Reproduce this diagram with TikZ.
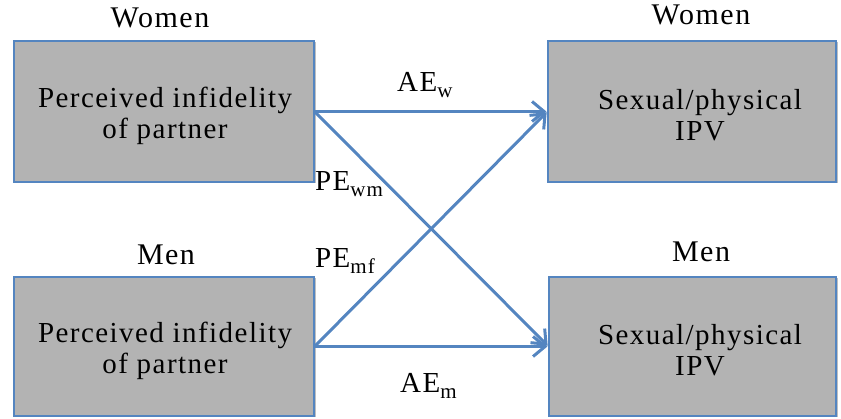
\documentclass[tikz,border=0pt]{standalone}
\usepackage{fontspec}
\setmainfont{Liberation Serif}[LetterSpace=5]
\usetikzlibrary{arrows.meta,shadows}
\definecolor{boxgray}{RGB}{179,179,179}
\definecolor{pathblue}{RGB}{84,133,192}
\newcommand{\lbl}[2]{#1\raisebox{-0.2em}{\fontsize{21}{21}\selectfont #2}}
\tikzset{
  varbox/.style={draw=pathblue, line width=1.2pt, fill=boxgray, inner sep=0pt,
    drop shadow={shadow xshift=1.5pt, shadow yshift=-1.5pt, opacity=0.25, fill=black}},
  boxtext/.style={align=center, inner sep=0pt, font=\fontsize{29}{31}\selectfont},
  grouplbl/.style={anchor=base, font=\fontsize{30}{31}\selectfont, inner sep=0pt},
  pathlbl/.style={anchor=base west, font=\fontsize{29}{31}\selectfont, inner sep=0pt},
  effect/.style={draw=pathblue, line width=3pt,
    -{Straight Barb[length=12pt, width=20pt, line width=3pt]}, shorten >=1pt}
}
\begin{document}
\begin{tikzpicture}[x=1pt, y=-1pt]
  \useasboundingbox (0,0) rectangle (841,419);

  % exposure and outcome boxes
  \node[varbox, minimum width=300pt, minimum height=141pt] (lw) at (164,111.5) {};
  \node[varbox, minimum width=288pt, minimum height=141pt] (rw) at (692,111.5) {};
  \node[varbox, minimum width=300pt, minimum height=139pt] (lm) at (164,346.5) {};
  \node[varbox, minimum width=287pt, minimum height=139pt] (rm) at (692.5,346.5) {};

  \node[boxtext] (tlw) at (165,115.5) {Perceived infidelity\\of partner};
  \node[boxtext] (trw) at (700,115.5) {Sexual/physical\\IPV};
  \node[boxtext] (tlm) at (165,350.5) {Perceived infidelity\\of partner};
  \node[boxtext] (trm) at (700,350.5) {Sexual/physical\\IPV};

  % group headings
  \node[grouplbl] (hlw) at (160,28) {Women};
  \node[grouplbl] (hrw) at (701,25) {Women};
  \node[grouplbl] (hlm) at (166,265) {Men};
  \node[grouplbl] (hrm) at (701,262) {Men};

  % actor and partner effects
  \draw[effect] (lw.east) -- (rw.west);
  \draw[effect] (lw.east) -- (rm.west);
  \draw[effect] (lm.east) -- (rw.west);
  \draw[effect] (lm.east) -- (rm.west);

  \node[pathlbl] (aew) at (397,92) {\lbl{AE}{w}};
  \node[pathlbl] (pewm) at (315,191) {\lbl{PE}{wm}};
  \node[pathlbl] (pemf) at (315,268) {\lbl{PE}{mf}};
  \node[pathlbl] (aem) at (400,393) {\lbl{AE}{m}};
\end{tikzpicture}
\end{document}
